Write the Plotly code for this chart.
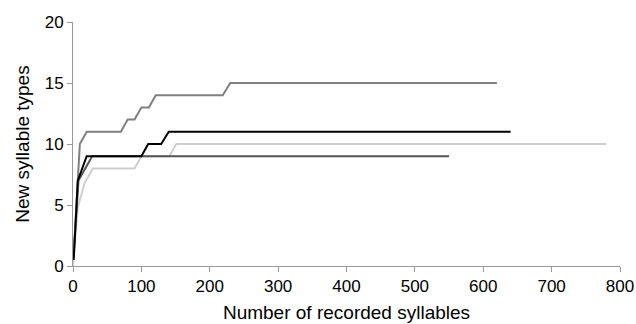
import plotly.graph_objects as go

# Series data (x = number of recorded syllables, y = cumulative new syllable types)
s1_x = [1, 10, 20, 70, 80, 90, 100, 111, 121, 219, 230, 620]
s1_y = [1, 10, 11, 11, 12, 12, 13, 13, 14, 14, 15, 15]

s2_x = [1, 7, 20, 100, 110, 129, 140, 640]
s2_y = [0.5, 7, 9, 9, 10, 10, 11, 11]

s3_x = [1, 8, 28, 550]
s3_y = [1, 7, 9, 9]

s4_x = [0, 7, 17, 29, 90, 100, 141, 151, 780]
s4_y = [0, 4.8, 6.8, 8, 8, 9, 9, 10, 10]

x_ticks = [0, 100, 200, 300, 400, 500, 600, 700, 800]
y_ticks = [0, 5, 10, 15, 20]

series = [
    (s4_x, s4_y, "#cfcfcf"),
    (s3_x, s3_y, "#555555"),
    (s1_x, s1_y, "#808080"),
    (s2_x, s2_y, "#000000"),
]

fig = go.Figure()
for xs, ys, c in series:
    fig.add_trace(go.Scatter(x=xs, y=ys, mode="lines",
                             line=dict(color=c, width=2), showlegend=False))

fig.update_layout(
    width=636, height=324,
    margin=dict(l=73, r=16, t=22, b=58),
    paper_bgcolor="white", plot_bgcolor="white",
    font=dict(family="Liberation Sans, Arial, sans-serif", size=17, color="#000000"),
)
fig.update_xaxes(
    range=[0, 800], tickvals=x_ticks, showgrid=False, zeroline=False,
    showline=True, linecolor="#9a9a9a", linewidth=1, automargin=False,
    ticks="outside", ticklen=5, tickcolor="#9a9a9a",
    title=dict(text="Number of recorded syllables", font=dict(size=19), standoff=10),
)
fig.update_yaxes(
    range=[0, 20], tickvals=y_ticks, showgrid=False, zeroline=False,
    showline=True, linecolor="#9a9a9a", linewidth=1, automargin=False,
    ticks="outside", ticklen=5, tickcolor="#9a9a9a",
    title=dict(text="New syllable types", font=dict(size=19), standoff=10),
)
fig.write_html("out.html")
